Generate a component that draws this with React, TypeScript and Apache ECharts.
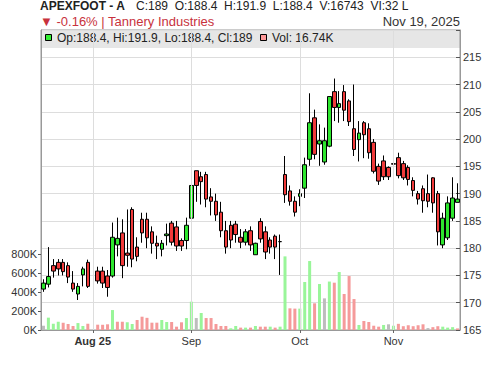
import { useEffect, useRef } from 'react';
import * as echarts from 'echarts';

const dates = [
  'Jul 18', 'Jul 21', 'Jul 22', 'Jul 23', 'Jul 24', 'Jul 25', 'Jul 28', 'Jul 29', 'Jul 30', 'Jul 31',
  'Aug 1', 'Aug 4', 'Aug 5', 'Aug 6', 'Aug 7', 'Aug 8', 'Aug 11', 'Aug 12', 'Aug 13', 'Aug 14',
  'Aug 15', 'Aug 18', 'Aug 19', 'Aug 20', 'Aug 21', 'Aug 22', 'Aug 25', 'Aug 26', 'Aug 28', 'Aug 29',
  'Sep 1', 'Sep 2', 'Sep 3', 'Sep 4', 'Sep 5', 'Sep 8', 'Sep 9', 'Sep 10', 'Sep 11', 'Sep 12',
  'Sep 15', 'Sep 16', 'Sep 17', 'Sep 18', 'Sep 19', 'Sep 22', 'Sep 23', 'Sep 24', 'Sep 25', 'Sep 26',
  'Sep 29', 'Sep 30', 'Oct 1', 'Oct 3', 'Oct 6', 'Oct 7', 'Oct 8', 'Oct 9', 'Oct 10', 'Oct 13',
  'Oct 14', 'Oct 15', 'Oct 16', 'Oct 17', 'Oct 23', 'Oct 24', 'Oct 27', 'Oct 28', 'Oct 29', 'Oct 30',
  'Oct 31', 'Nov 3', 'Nov 4', 'Nov 5', 'Nov 6', 'Nov 7', 'Nov 10', 'Nov 11', 'Nov 12', 'Nov 13',
  'Nov 14', 'Nov 17', 'Nov 18', 'Nov 19a', 'Nov 19',
];

const monthLabels: Record<string, string> = { 'Aug 1': 'Aug 25', 'Sep 1': 'Sep', 'Oct 1': 'Oct', 'Nov 3': 'Nov' };

const opens = [
  172.5, 173.4, 176.8, 177.4, 177.4, 176.8, 173.6, 171.6, 175.1, 177.4,
  null, 175.8, 175.8, 174.9, 174.9, 180.6, 182.8, 179.1, 187.1, 180.2,
  185.3, 185.3, 183.0, 180.9, 179.8, 182.3, 184.6, 183.9, 181.4, 181.4,
  185.5, 194.2, 193.1, 193.5, 189.4, 188.6, 186.6, 183.2, 184.2, 184.4,
  182.0, 181.1, 183.2, 178.8, 184.9, 183.0, 181.5, 182.2, 181.2, 193.5,
  190.5, 188.6, 189.5, 191.0, 196.3, 203.9, 199.1, 195.8, 198.7, 208.7,
  205.8, 208.7, 207.0, 201.9, 199.9, 203.0, 201.9, 199.4, 195.0, 196.0,
  194.8, 195.5, 196.6, 195.5, 194.8, 192.4, 190.0, 190.9, 190.0, 192.9,
  190.0, 180.6, 181.9, 185.5, 188.4,
];
const closes = [
  173.6, 174.8, 175.8, 176.2, 175.7, 174.7, 172.5, 173.0, 176.2, 173.0,
  null, 174.0, 173.6, 172.8, 182.0, 181.8, 176.8, 178.7, 178.0, 178.5,
  182.8, 181.9, 180.9, 180.4, 180.9, 182.6, 181.1, 180.4, 180.4, 184.2,
  191.5, 191.5, 192.2, 189.0, 188.6, 186.1, 183.2, 180.2, 181.5, 182.5,
  181.1, 183.0, 180.6, 180.9, 181.7, 179.3, 180.2, 180.2, 181.2, 189.8,
  188.6, 186.6, 190.0, 195.3, 203.0, 197.2, 199.7, 199.7, 207.8, 205.8,
  206.5, 205.3, 203.2, 198.1, 201.1, 200.8, 197.5, 194.1, 192.3, 193.1,
  193.1, 195.4, 193.3, 192.9, 192.6, 190.6, 189.0, 188.7, 188.6, 188.3,
  183.0, 185.5, 188.3, 189.2, 189.0,
];
const lows = [
  172.0, 172.8, 174.6, 175.0, 175.0, 173.6, 172.0, 170.5, 173.0, 172.7,
  null, 173.5, 172.7, 171.1, 174.6, 178.5, 174.5, 176.6, 176.5, 177.6,
  181.0, 180.0, 179.0, 178.0, 178.5, 180.5, 180.5, 179.5, 179.5, 179.8,
  181.5, 188.5, 188.0, 187.5, 186.0, 185.0, 182.0, 179.0, 180.0, 181.0,
  180.0, 180.5, 179.5, 178.8, 181.0, 178.0, 179.0, 178.0, 175.1, 188.3,
  187.8, 185.8, 187.7, 189.2, 195.1, 196.3, 195.1, 195.3, 198.5, 203.3,
  203.0, 203.3, 202.4, 196.9, 195.9, 196.5, 196.4, 193.7, 191.6, 192.5,
  192.5, 193.5, 192.8, 192.5, 191.5, 189.5, 188.0, 186.5, 187.5, 186.5,
  180.5, 180.0, 181.5, 185.0, 188.4,
];
const highs = [
  174.3, 180.2, 178.0, 178.0, 178.0, 177.4, 175.8, 173.6, 176.6, 177.9,
  null, 176.6, 176.6, 176.0, 184.7, 185.6, 185.3, 187.1, 187.5, 182.0,
  186.5, 186.5, 184.0, 182.3, 181.5, 184.5, 185.0, 185.0, 181.8, 185.6,
  192.9, 194.2, 194.0, 194.0, 191.0, 190.0, 188.5, 185.0, 185.0, 185.0,
  183.5, 183.5, 184.0, 181.0, 185.5, 184.0, 182.0, 182.5, 182.5, 196.9,
  191.5, 189.5, 190.8, 196.6, 208.4, 205.4, 202.7, 202.1, 207.9, 211.1,
  208.8, 209.9, 207.3, 210.0, 203.3, 203.3, 202.9, 200.0, 195.5, 197.0,
  195.0, 196.5, 197.5, 196.0, 195.2, 193.0, 190.5, 191.5, 193.5, 193.0,
  190.5, 186.5, 189.5, 193.0, 191.9,
];
const volumesK = [
  45, 130, 66, 87, 77, 63, 42, 73, 42, 66,
  null, 56, 55, 60, 210, 87, 87, 81, 63, 105,
  140, 128, 77, 77, 105, 84, 84, 35, 81, 126,
  298, 126, 179, 126, 126, 63, 42, 42, 18, 42,
  25, 25, 25, 42, 35, 35, 35, 25, 35, 775,
  228, 225, 225, 505, 726, 281, 484, 333, 510, 498,
  610, 379, 568, 326, 53, 95, 84, 45, 35, 53,
  60, 45, 65, 40, 50, 40, 50, 60, 20, 30,
  40, 35, 25, 30, 16.74,
];
// 1 = up vs previous close, -1 = down, 0 = unchanged
const volDir = [
  0, 1, 1, 1, -1, -1, -1, 1, 1, -1,
  0, -1, -1, -1, 1, -1, -1, 1, 1, -1,
  -1, -1, -1, -1, 1, 1, -1, -1, -1, 1,
  1, 0, 1, -1, -1, -1, -1, -1, 1, 1,
  -1, 1, -1, 1, -1, -1, 1, -1, 1, 1,
  -1, -1, 1, 1, 1, -1, 1, 0, 1, -1,
  1, -1, -1, -1, 1, -1, -1, -1, -1, 1,
  0, 1, -1, -1, -1, -1, -1, -1, 0, -1,
  -1, 1, 1, 1, -1,
];

const volLabelValues = [0, 200000, 400000, 600000, 800000];

export default function App() {
  const ref = useRef<HTMLDivElement>(null);
  useEffect(() => {
    if (!ref.current) return;
    const chart = echarts.init(ref.current, undefined, { renderer: 'svg' });
    const font = 'Liberation Sans, Arial, sans-serif';
    const isLabel = (_i: number, v: string) => v in monthLabels;
    const candleData = dates.map((_d, i) =>
      opens[i] == null ? '-' : [opens[i], closes[i], lows[i], highs[i]]
    );
    const volData = dates.map((_d, i) =>
      volumesK[i] == null
        ? '-'
        : {
            value: (volumesK[i] as number) * 1000,
            itemStyle: { color: volDir[i] > 0 ? '#99f599' : volDir[i] < 0 ? '#f59a9a' : '#bdbdbd' },
          }
    );
    chart.setOption({
      animation: false,
      backgroundColor: '#ffffff',
      textStyle: { fontFamily: font },
      grid: { left: 41, right: 40, top: 30, bottom: 36, show: true, borderColor: '#999', borderWidth: 1 },
      xAxis: {
        type: 'category',
        data: dates,
        boundaryGap: true,
        axisLine: { show: true, lineStyle: { color: '#999' } },
        axisTick: { show: true, alignWithLabel: true, interval: isLabel, length: 3, lineStyle: { color: '#666' } },
        axisLabel: {
          interval: isLabel,
          fontSize: 11,
          color: '#333',
          margin: 5,
          formatter: (v: string) => (v === 'Aug 1' ? '{b|Aug 25}' : monthLabels[v] || ''),
          rich: { b: { fontWeight: 'bold', fontSize: 11, color: '#333' } },
        },
        splitLine: { show: false },
      },
      yAxis: [
        {
          type: 'value',
          position: 'right',
          min: 165,
          max: 220,
          interval: 5,
          axisLine: { show: true, lineStyle: { color: '#999' } },
          axisTick: { show: true, inside: true, length: 4, lineStyle: { color: '#555' } },
          axisLabel: {
            fontSize: 11,
            color: '#333',
            margin: 3,
            formatter: (v: number) => (v >= 220 ? '' : String(v)),
          },
          splitLine: { show: true, lineStyle: { color: '#dddddd' } },
        },
        {
          type: 'value',
          position: 'left',
          min: 0,
          max: 3157895,
          axisLine: { show: true, lineStyle: { color: '#999' } },
          axisTick: { show: true, length: 3, customValues: volLabelValues, lineStyle: { color: '#555' } },
          axisLabel: {
            fontSize: 11,
            color: '#333',
            margin: 4,
            customValues: volLabelValues,
            formatter: (v: number) => Math.round(v / 1000) + 'K',
          },
          splitLine: { show: false },
        },
      ],
      graphic: [
        { type: 'rect', z: -10, shape: { x: 41, y: 30, width: 419, height: 18 }, style: { fill: '#e6e6e6' }, silent: true },
        { type: 'rect', shape: { x: 45.5, y: 34.5, width: 6, height: 6 }, style: { fill: '#33ee33', stroke: '#000', lineWidth: 1 } },
        { type: 'text', x: 57, y: 38, style: { text: 'Op:188.4, Hi:191.9, Lo:188.4, Cl:189', font: '12px ' + font, fill: '#222', verticalAlign: 'middle' } },
        { type: 'rect', shape: { x: 260.5, y: 34.5, width: 6, height: 6 }, style: { fill: '#ff9999', stroke: '#000', lineWidth: 1 } },
        { type: 'text', x: 272, y: 38, style: { text: 'Vol: 16.74K', font: '12px ' + font, fill: '#222', verticalAlign: 'middle' } },
        { type: 'text', x: 40, y: 6, style: { text: 'APEXFOOT - A', font: 'bold 12px ' + font, fill: '#222', verticalAlign: 'middle' } },
        { type: 'text', x: 136, y: 6, style: { text: 'C:189  O:188.4  H:191.9  L:188.4  V:16743  VI:32 L', font: '12px ' + font, fill: '#222', verticalAlign: 'middle' } },
        { type: 'text', x: 40, y: 21, style: { text: '▼ -0.16% | Tannery Industries', font: '13px ' + font, fill: '#c8323c', verticalAlign: 'middle' } },
        { type: 'text', x: 460, y: 21, style: { text: 'Nov 19, 2025', font: '13px ' + font, fill: '#333', align: 'right', verticalAlign: 'middle' } },
      ],
      series: [
        {
          type: 'line',
          data: [],
          z: 1,
          silent: true,
          markLine: {
            silent: true,
            symbol: 'none',
            label: { show: false },
            lineStyle: { color: '#dddddd', type: 'solid', width: 1 },
            data: Object.keys(monthLabels).map((k) => ({ xAxis: k })),
          },
        },
        {
          type: 'bar',
          yAxisIndex: 1,
          data: volData,
          barWidth: 3,
          z: 2,
        },
        {
          type: 'candlestick',
          yAxisIndex: 0,
          data: candleData,
          barWidth: 4,
          z: 3,
          itemStyle: {
            color: '#2ee62e',
            color0: '#f03a3a',
            borderColor: '#000',
            borderColor0: '#000',
            borderWidth: 1,
          },
        },
      ],
    });
    return () => chart.dispose();
  }, []);
  return <div ref={ref} style={{ position: 'fixed', left: 0, top: 0, width: 500, height: 366 }} />;
}
